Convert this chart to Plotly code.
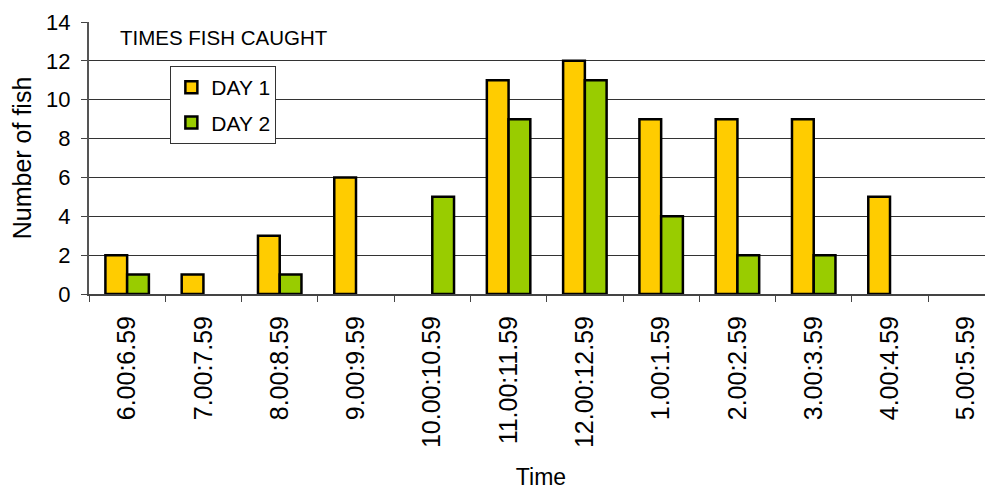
import plotly.graph_objects as go

categories = ["6.00:6.59", "7.00:7.59", "8.00:8.59", "9.00:9.59", "10.00:10.59",
              "11.00:11.59", "12.00:12.59", "1.00:1.59", "2.00:2.59", "3.00:3.59",
              "4.00:4.59", "5.00:5.59"]
day1 = [2, 1, 3, 6, 0, 11, 12, 9, 9, 9, 5, 0]
day2 = [1, 0, 1, 0, 5, 9, 11, 4, 2, 2, 0, 0]
y_ticks = [0, 2, 4, 6, 8, 10, 12, 14]

FONT = "Liberation Sans, Arial, sans-serif"


def shown(values):
    # zero-height bars are not drawn in the original chart
    return [v if v else None for v in values]


fig = go.Figure()
fig.add_trace(go.Bar(name="DAY 1", x=categories, y=shown(day1), legendgroup="d1",
                     marker=dict(color="#FFCC00", line=dict(color="black", width=2.5))))
fig.add_trace(go.Bar(name="DAY 2", x=categories, y=shown(day2), legendgroup="d2",
                     marker=dict(color="#99CC00", line=dict(color="black", width=2.5))))

fig.update_layout(
    width=985, height=482,
    margin=dict(l=81, r=0, t=14, b=196),
    paper_bgcolor="white", plot_bgcolor="white",
    barmode="group", bargap=0.43, bargroupgap=0,
    font=dict(family=FONT, size=21, color="black"),
    showlegend=True,
    legend=dict(x=0.09, y=0.838, xanchor="left", yanchor="top",
                bgcolor="white", bordercolor="#333", borderwidth=1,
                font=dict(size=21), tracegroupgap=5, itemwidth=30),
    annotations=[dict(text="TIMES FISH CAUGHT", x=0.032, y=0.942, xref="paper", yref="paper",
                      xanchor="left", yanchor="middle", showarrow=False,
                      font=dict(size=20.5))],
)
fig.update_xaxes(
    type="category", range=[-0.5, 11.35], automargin=False,
    tickangle=-90, tickson="boundaries", ticks="outside", ticklen=6, tickcolor="#444",
    showline=True, linecolor="#444", linewidth=2, showgrid=False, ticklabelstandoff=10,
    title=dict(text="Time", standoff=24, font=dict(size=23)),
    tickfont=dict(size=25),
)
fig.update_yaxes(
    range=[0, 14], tickvals=y_ticks, ticks="outside", ticklen=6, tickcolor="#444",
    showline=True, linecolor="#555", linewidth=2, showgrid=True, gridcolor="#333", gridwidth=1,
    zeroline=False, ticklabelstandoff=6, automargin=False,
    title=dict(text="Number of fish", standoff=10, font=dict(size=25)),
    tickfont=dict(size=22),
)

fig.write_html("out.html")
